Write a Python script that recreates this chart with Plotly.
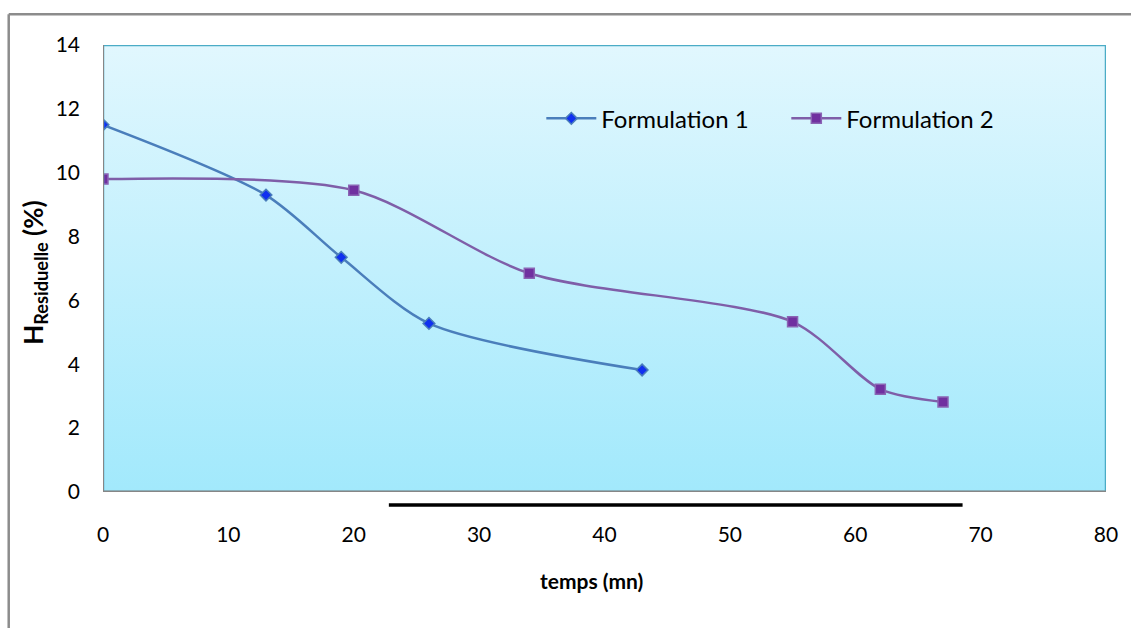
import plotly.graph_objects as go

# Séchage : humidité résiduelle en fonction du temps
temps_f1 = [0, 13, 19, 26, 43]
h_f1 = [11.5, 9.3, 7.35, 5.28, 3.82]

temps_f2 = [0, 20, 34, 55, 62, 67]
h_f2 = [9.8, 9.45, 6.85, 5.33, 3.22, 2.82]

x_ticks = [0, 10, 20, 30, 40, 50, 60, 70, 80]
y_ticks = [0, 2, 4, 6, 8, 10, 12, 14]

X_MAX = 80
Y_MAX = 14

FONT = "Lato"

fig = go.Figure()

# fond de la zone de tracé en dégradé vertical
fig.add_trace(go.Scatter(
    x=[0, X_MAX, X_MAX, 0, 0],
    y=[0, 0, Y_MAX, Y_MAX, 0],
    mode="lines",
    line=dict(width=0),
    fill="toself",
    fillgradient=dict(
        type="vertical",
        colorscale=[[0, "#a2e9fc"], [1, "#e1f7fe"]],
    ),
    hoverinfo="skip",
    showlegend=False,
))

fig.add_trace(go.Scatter(
    x=temps_f1, y=h_f1,
    name="Formulation 1",
    mode="lines+markers",
    line=dict(color="#4a7ebb", width=2.5, shape="spline", smoothing=0.8),
    marker=dict(symbol="diamond", size=9, color="#1030f0",
                line=dict(color="#4a7ebb", width=1.5)),
))

fig.add_trace(go.Scatter(
    x=temps_f2, y=h_f2,
    name="Formulation 2",
    mode="lines+markers",
    line=dict(color="#7f5ea8", width=2.5, shape="spline", smoothing=0.8),
    marker=dict(symbol="square", size=10, color="#7030a0",
                line=dict(color="#8a64b4", width=1.5)),
))

shapes = [
    # cadre de la zone de tracé
    dict(type="rect", xref="x", yref="y", x0=0, x1=X_MAX, y0=0, y1=Y_MAX,
         line=dict(color="#4bacc6", width=2.5), layer="above"),
    dict(type="line", xref="x", yref="y", x0=0, x1=0, y0=0, y1=Y_MAX,
         line=dict(color="#868686", width=2), layer="above"),
    dict(type="line", xref="x", yref="y", x0=0, x1=X_MAX, y0=0, y1=0,
         line=dict(color="#868686", width=3), layer="above"),
    # trait noir sous l'axe des abscisses
    dict(type="line", xref="paper", yref="paper", x0=0.285, x1=0.857,
         y0=-0.029, y1=-0.029, line=dict(color="#000000", width=3.5)),
    # bordure extérieure du graphique
    dict(type="line", xref="paper", yref="paper", x0=-0.094, x1=1.1,
         y0=1.069, y1=1.069, line=dict(color="#8c8c8c", width=2.5)),
    dict(type="line", xref="paper", yref="paper", x0=-0.094, x1=-0.094,
         y0=1.069, y1=-0.4, line=dict(color="#8c8c8c", width=2.5)),
]

annotations = [
    dict(text="<b>temps (mn)</b>", xref="paper", yref="paper",
         x=0.487, y=-0.199, xanchor="center", yanchor="middle",
         showarrow=False, font=dict(family=FONT, size=21, color="#000000")),
    dict(text="<b>H<sub>Residuelle</sub> (%)</b>", xref="paper", yref="paper",
         x=-0.068, y=0.49, xanchor="center", yanchor="middle", textangle=-90,
         showarrow=False, font=dict(family=FONT, size=26, color="#000000")),
]

fig.update_layout(
    width=1131, height=628,
    margin=dict(l=103, r=25, t=45, b=136),
    paper_bgcolor="#ffffff",
    plot_bgcolor="#ffffff",
    font=dict(family=FONT, size=21, color="#000000"),
    shapes=shapes,
    annotations=annotations,
    showlegend=True,
    legend=dict(
        orientation="h",
        x=0.437, y=0.835, xanchor="left", yanchor="middle",
        bgcolor="rgba(0,0,0,0)",
        font=dict(family=FONT, size=24, color="#000000"),
        itemwidth=50,
        entrywidth=180,
        entrywidthmode="pixels",
        traceorder="normal",
    ),
    xaxis=dict(
        range=[0, X_MAX], tickvals=x_ticks, ticktext=[str(v) for v in x_ticks],
        showgrid=False, zeroline=False, showline=False, ticks="",
        ticklabelstandoff=28, tickfont=dict(family=FONT, size=21),
    ),
    yaxis=dict(
        range=[0, Y_MAX], tickvals=y_ticks, ticktext=[str(v) for v in y_ticks],
        showgrid=False, zeroline=False, showline=False, ticks="",
        ticklabelstandoff=22, tickfont=dict(family=FONT, size=21),
    ),
)

fig.write_html("out.html")
